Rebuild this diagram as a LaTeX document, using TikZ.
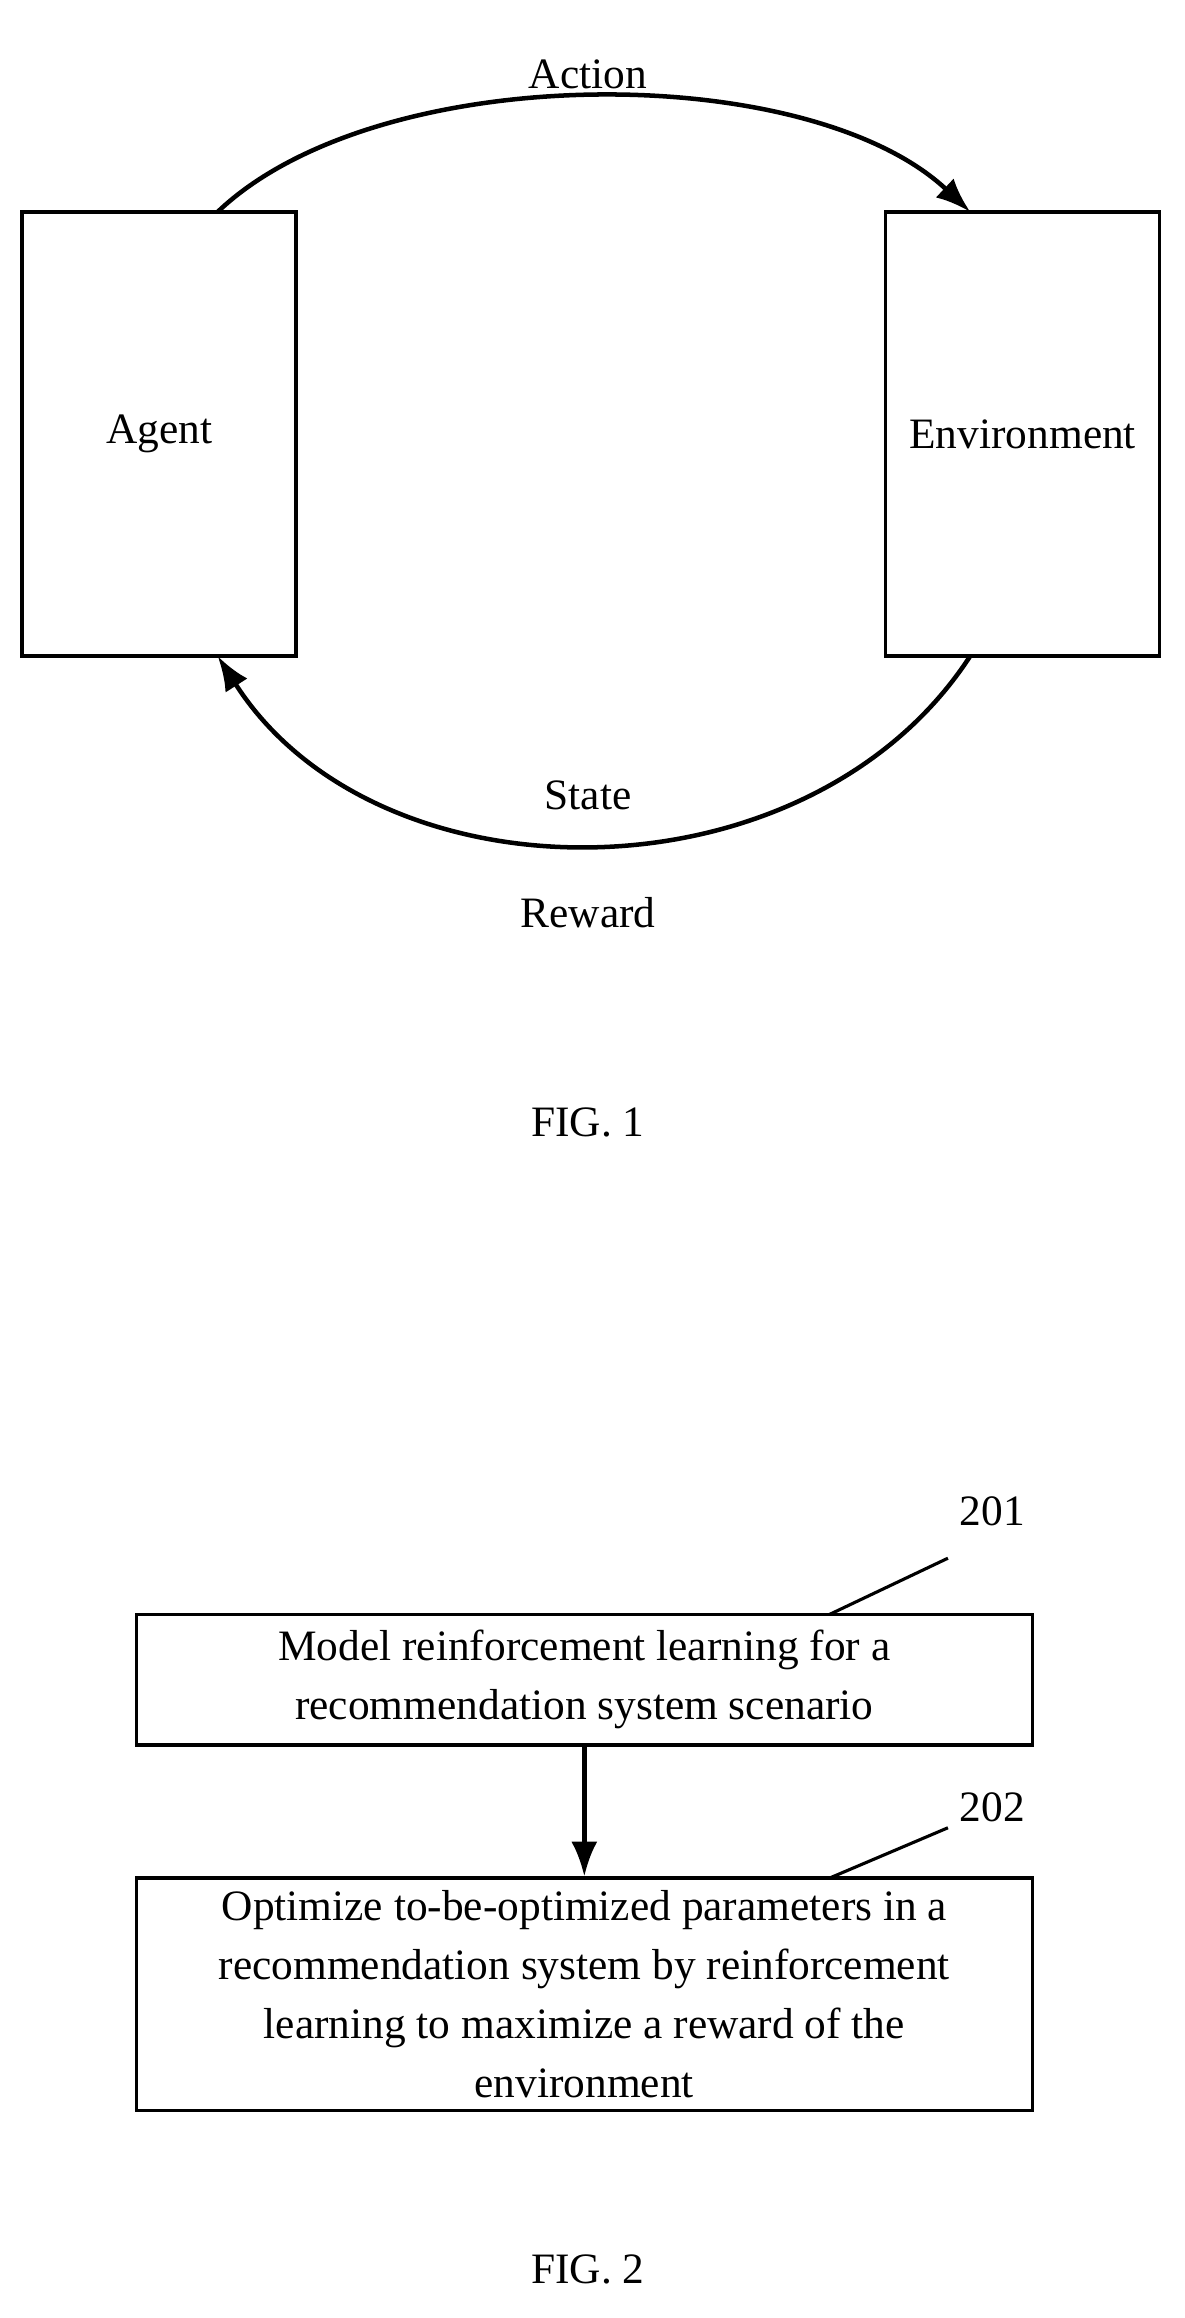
\documentclass[tikz,border=0pt]{standalone}
\usepackage{fontspec}
\setmainfont{Liberation Serif}
\usetikzlibrary{arrows.meta}
\begin{document}
\begin{tikzpicture}[x=0.03cm,y=-0.03cm,
  box/.style={draw,line width=2pt,inner sep=0pt},
  txt/.style={font=\fontsize{25}{34}\selectfont,align=center},
  arr/.style={line width=2.6pt,-{Latex[length=20pt,width=15pt]}}]
\useasboundingbox (0,0) rectangle (800,1565);
\node[box,minimum width=185*0.03cm,minimum height=300*0.03cm] (agent) at (107.5,293) {};
\node[txt] at (agent) {Agent};
\node[box,minimum width=185*0.03cm,minimum height=300*0.03cm] (env) at (690.5,293) {};
\node[txt] at (env) {Environment};
\coordinate (a1) at (147,143); \coordinate (a2) at (655,143);
\coordinate (b1) at (655,443); \coordinate (b2) at (147,443);
\draw[arr] (a1) .. controls (255,40) and (545,40) .. (a2);
\draw[arr] (b1) .. controls (545,612) and (255,612) .. (b2);
\node[txt] (action) at (397,50) {Action};
\node[txt] (state) at (397,537) {State};
\node[txt] (reward) at (397,616) {Reward};
\node[txt] (fig1) at (397,758) {FIG. 1};
\node[box,minimum width=605*0.03cm,minimum height=88*0.03cm] (s1) at (394.5,1134) {};
\node[txt] at (s1) {Model reinforcement learning for a\\recommendation system scenario};
\node[box,minimum width=605*0.03cm,minimum height=157*0.03cm] (s2) at (394.5,1346.5) {};
\node[txt] at (s2) {Optimize to-be-optimized parameters in a\\recommendation system by reinforcement\\learning to maximize a reward of the\\environment};
\draw[arr] (s1.south) -- (s2.north);
\node[txt] (l1) at (670,1020) {201};
\node[txt] (l2) at (670,1220) {202};
\coordinate (c1) at (560,1090); \coordinate (c2) at (640,1052);
\coordinate (d1) at (560,1268); \coordinate (d2) at (640,1234);
\draw[line width=1.8pt] (c1) -- (c2);
\draw[line width=1.8pt] (d1) -- (d2);
\node[txt] (fig2) at (397,1532) {FIG. 2};
\end{tikzpicture}
\end{document}
